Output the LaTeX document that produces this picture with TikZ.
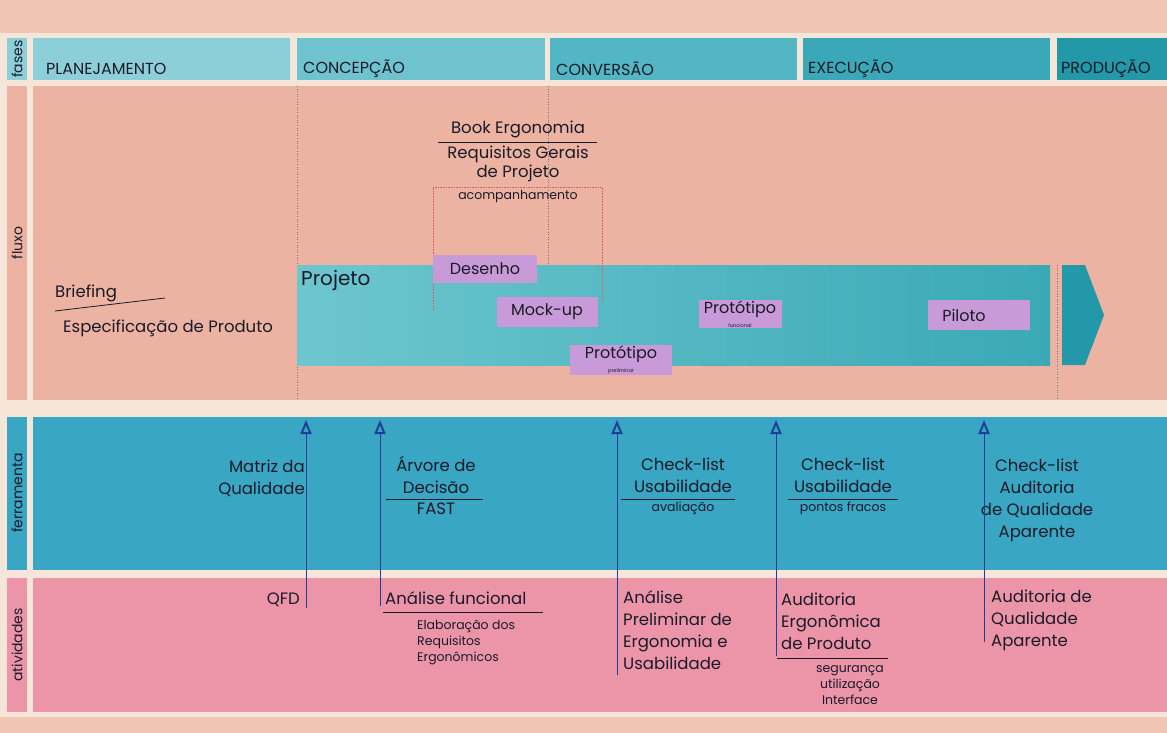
\documentclass[tikz,border=0pt]{standalone}
\usepackage{fontspec}
\setmainfont{Poppins}
\usetikzlibrary{arrows.meta,shapes.geometric}
\definecolor{bgcream}{HTML}{F6E6DA}
\definecolor{peach}{HTML}{EFC6B2}
\definecolor{salmon}{HTML}{ECB3A2}
\definecolor{ph1}{HTML}{8DCFD8}
\definecolor{ph2}{HTML}{6EC3CF}
\definecolor{ph3}{HTML}{52B6C4}
\definecolor{ph4}{HTML}{3AA8B8}
\definecolor{ph5}{HTML}{2298A8}
\definecolor{tool}{HTML}{39A6C3}
\definecolor{ativ}{HTML}{EC95A9}
\definecolor{purp}{HTML}{C99AD8}
\definecolor{arrowblue}{HTML}{1E3E98}
\definecolor{ink}{HTML}{1A1A28}
\definecolor{barL}{HTML}{6DC6CE}
\definecolor{barR}{HTML}{3AA9B6}
\definecolor{redot}{HTML}{D8605A}
\begin{document}
\begin{tikzpicture}[x=1pt,y=-1pt,
  every node/.style={text=ink, inner sep=0pt},
  txt/.style={font=\fontsize{16.5}{22}\selectfont},
  smalltxt/.style={font=\fontsize{12.5}{16}\selectfont},
  phasetxt/.style={font=\fontsize{16}{18}\selectfont, anchor=west},
  rowlab/.style={font=\fontsize{14}{16}\selectfont, rotate=90},
  pbox/.style={fill=purp, align=center, font=\fontsize{16}{18}\selectfont},
  toolarrow/.style={draw=arrowblue, line width=1pt, -{Triangle[open, width=11pt, length=14pt, line width=2pt]}},
  rule/.style={draw=ink, line width=0.8pt},
  dotv/.style={draw=ink!60, dotted, line width=0.6pt},
  reddot/.style={draw=redot, densely dotted, line width=0.6pt}]
\useasboundingbox (0,0) rectangle (1167,733);
% background and bands
\fill[bgcream] (0,0) rectangle (1167,733);
\fill[peach] (0,0) rectangle (1167,33);
\fill[peach] (0,717) rectangle (1167,733);
% row labels
\fill[ph1] (7,38) rectangle (27,80);
\fill[salmon] (7,86) rectangle (27,400);
\fill[tool] (7,417) rectangle (27,570);
\fill[ativ] (7,578) rectangle (27,712);
\node[rowlab] (lfases) at (17,59) {fases};
\node[rowlab] (lfluxo) at (17,243) {fluxo};
\node[rowlab] (lferr) at (17,493) {ferramenta};
\node[rowlab] (lativ) at (17,645) {atividades};
% phases
\fill[ph1] (33,38) rectangle (290,80);
\fill[ph2] (297,38) rectangle (545,80);
\fill[ph3] (550,38) rectangle (797,80);
\fill[ph4] (803,38) rectangle (1050,80);
\fill[ph5] (1057,38) rectangle (1167,80);
\node[phasetxt] (f1) at (46,69) {PLANEJAMENTO};
\node[phasetxt] (f2) at (303,69) {CONCEPÇÃO};
\node[phasetxt] (f3) at (556,69) {CONVERSÃO};
\node[phasetxt] (f4) at (808,69) {EXECUÇÃO};
\node[phasetxt] (f5) at (1061,69) {PRODUÇÃO};
% main rows
\fill[salmon] (33,86) rectangle (1167,400);
\fill[tool] (33,417) rectangle (1167,570);
\fill[ativ] (33,578) rectangle (1167,712);
% fluxo: dotted guides
\draw[dotv] (297,86) -- (297,400);
\draw[dotv] (548,86) -- (548,265);
\draw[dotv] (1057,265) -- (1057,400);
% projeto bar
\shade[left color=barL, right color=barR] (297,265) rectangle (1050,365);
\fill[ph5] (1062,265) -- (1085,265) -- (1104,315) -- (1085,365) -- (1062,365) -- cycle;
\node[font=\fontsize{20}{22}\selectfont, anchor=west] (proj) at (301,280) {Projeto};
% red dotted frame
\draw[reddot] (433,310) -- (433,187) -- (602,187) -- (602,300);
% top text block
\node[txt] (book) at (518,129) {Book Ergonomia};
\draw[rule] (438,142) -- (597,142);
\node[txt, align=center, font=\fontsize{16.5}{19}\selectfont] (req) at (518,164) {Requisitos Gerais\\de Projeto};
\node[smalltxt] (acomp) at (518,196) {acompanhamento};
% purple boxes
\node[pbox, minimum width=104pt, minimum height=28pt] (desenho) at (485,269) {Desenho};
\node[pbox, minimum width=101pt, minimum height=30pt] (mock) at (547,312) {Mock-up};
\node[pbox, minimum width=83pt, minimum height=28pt] (protf) at (740,314) {Protótipo\\[-4pt]{\fontsize{5}{6}\selectfont funcional}};
\node[pbox, minimum width=102pt, minimum height=30pt] (piloto) at (979,315) {};
\node[font=\fontsize{16}{18}\selectfont] (pilototxt) at (964,315) {Piloto};
\node[pbox, minimum width=102pt, minimum height=30pt] (protp) at (621,360) {Protótipo\\[-4pt]{\fontsize{5}{6}\selectfont preliminar}};
% briefing
\node[txt, anchor=west] (brief) at (55,293) {Briefing};
\node[txt, anchor=west] (espec) at (63,328) {Especificação de Produto};
\draw[rule] (55,311) -- (165,298);
% ferramenta texts
\node[txt, anchor=east, align=right] (matriz) at (305,478) {Matriz da\\Qualidade};
\node[txt, align=center] (arvore) at (436,475) {Árvore de\\Decisão};
\draw[rule] (386,499) -- (483,499);
\node[txt] (fast) at (436,509) {FAST};
\node[txt, align=center] (ck1) at (683,475) {Check-list\\Usabilidade};
\draw[rule] (621,499) -- (735,499);
\node[smalltxt] (aval) at (683,508) {avaliação};
\node[txt, align=center] (ck2) at (843,475) {Check-list\\Usabilidade};
\draw[rule] (788,499) -- (898,499);
\node[smalltxt] (pontos) at (843,508) {pontos fracos};
\node[txt, align=center] (ck3) at (1037,500) {Check-list\\Auditoria\\de Qualidade\\Aparente};
% atividades texts
\node[txt, anchor=east] (qfd) at (300,600) {QFD};
\node[txt, anchor=west] (anf) at (385,598) {Análise funcional};
\draw[rule] (383,612) -- (543,612);
\node[smalltxt, anchor=west, align=left] (elab) at (417,643) {Elaboração dos\\Requisitos\\Ergonômicos};
\node[txt, anchor=west, align=left] (apre) at (623,630) {Análise\\Preliminar de\\Ergonomia e\\Usabilidade};
\node[txt, anchor=west, align=left] (aud) at (781,621) {Auditoria\\Ergonômica\\de Produto};
\draw[rule] (777,658) -- (888,658);
\node[smalltxt, align=center] (seg) at (850,685) {segurança\\utilização\\Interface};
\node[txt, anchor=west, align=left] (audq) at (991,620) {Auditoria de\\Qualidade\\Aparente};
% tool arrows
\coordinate (a1b) at (306,608); \coordinate (a1t) at (306,420);
\coordinate (a2b) at (380,606); \coordinate (a2t) at (380,420);
\coordinate (a3b) at (617,675); \coordinate (a3t) at (617,420);
\coordinate (a4b) at (776,656); \coordinate (a4t) at (776,420);
\coordinate (a5b) at (984,642); \coordinate (a5t) at (984,420);
\draw[toolarrow] (a1b) -- (a1t);
\draw[toolarrow] (a2b) -- (a2t);
\draw[toolarrow] (a3b) -- (a3t);
\draw[toolarrow] (a4b) -- (a4t);
\draw[toolarrow] (a5b) -- (a5t);
\end{tikzpicture}
\end{document}
